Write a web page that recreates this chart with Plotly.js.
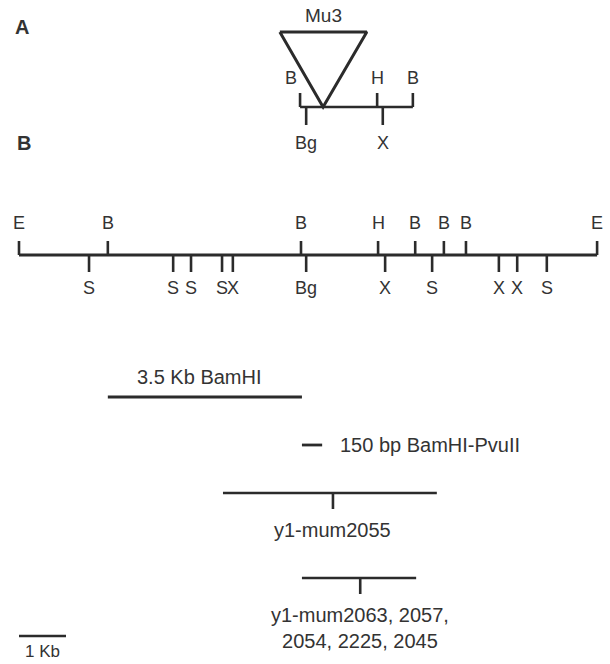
<!DOCTYPE html>
<html>
<head>
<meta charset="utf-8">
<script src="https://cdn.plot.ly/plotly-3.0.1.min.js"></script>
<style>html,body{margin:0;padding:0;background:#fff;}#chart{width:610px;height:664px;}</style>
</head>
<body>
<div id="chart"></div>
<script>
// ---------- DATA (positions in kb from the left EcoRI site) ----------
const mapEnds = [0, 12.30];
const upSites = ['E', 'B', 'B', 'H', 'B', 'B', 'B', 'E'];
const upPos = [0, 1.89, 6.00, 7.64, 8.43, 9.04, 9.51, 12.30];
const downSites = ['S', 'S', 'S', 'S', 'X', 'Bg', 'X', 'S', 'X', 'X', 'S'];
const downPos = [1.49, 3.28, 3.66, 4.32, 4.55, 6.11, 7.79, 8.79, 10.21, 10.60, 11.23];

// Panel A: Mu3 insertion region
const aUpSites = ['B', 'H', 'B'];
const aUpPos = [5.98, 7.62, 8.38];
const aDownSites = ['Bg', 'X'];
const aDownPos = [6.11, 7.74];
const mu3Label = 'Mu3';
const mu3Insert = 6.47;
const mu3Top = [5.55, 7.40];

// Probes
const probeNames = ['3.5 Kb BamHI', '150 bp BamHI-PvuII'];
const probeStart = [1.89, 6.02];
const probeEnd = [6.02, 6.45];

// Mutant alleles
const mutNames = ['y1-mum2055', 'y1-mum2063, 2057,<br>2054, 2225, 2045'];
const mutStart = [4.34, 6.02];
const mutEnd = [8.89, 8.45];
const mutInsert = [6.68, 7.26];

// Scale bar
const scaleBar = [0, 1];
const scaleLabel = '1 Kb';

// ---------- LAYOUT CONSTANTS (pixel rows) ----------
const PX_PER_KB = 47, ORIGIN_PX = 19, W = 610, H = 664;
const LC = '#2b2b2b', TC = '#333333', LW = 2.6;
const FONT = 'Liberation Sans, Arial, Helvetica, sans-serif';
const rowA = {line: 107, up: 93, down: 125, upLab: 78, downLab: 143, tri: 32, mu: 15};
const rowB = {line: 255, up: 241, down: 272, upLab: 223, downLab: 288};
const probeRows = [397, 445];
const mutRows = [493, 578];
const tickLen = 16;
const scaleRow = 636;

const traces = [];
function seg(xs, ys, w) {
  traces.push({type: 'scatter', mode: 'lines', x: xs, y: ys,
    line: {color: LC, width: w || LW}, hoverinfo: 'skip', showlegend: false});
}
function ticks(pos, y0, y1) {
  const xs = [], ys = [];
  pos.forEach(p => { xs.push(p, p, null); ys.push(y0, y1, null); });
  seg(xs, ys);
}
const ann = [];
function label(text, x, y, size, opts) {
  ann.push(Object.assign({text: text, x: x, y: y, xref: 'x', yref: 'y', showarrow: false,
    font: {family: FONT, size: size, color: TC}, xanchor: 'center', yanchor: 'middle'}, opts || {}));
}

// Panel A
seg([aUpPos[0], aUpPos[aUpPos.length - 1]], [rowA.line, rowA.line]);
ticks(aUpPos, rowA.line, rowA.up);
ticks(aDownPos, rowA.line, rowA.down);
seg([mu3Top[0], mu3Insert, mu3Top[1], mu3Top[0]], [rowA.tri, rowA.line, rowA.tri, rowA.tri], 3);
label(mu3Label, mu3Insert, rowA.mu, 19);
aUpSites.forEach((s, i) => label(s, aUpPos[i], rowA.upLab, 18, i === 0 ? {xshift: -9} : {}));
aDownSites.forEach((s, i) => label(s, aDownPos[i], rowA.downLab, 18));

// Panel B map
seg(mapEnds, [rowB.line, rowB.line], 2.8);
ticks(upPos, rowB.line, rowB.up);
ticks(downPos, rowB.line, rowB.down);
upSites.forEach((s, i) => label(s, upPos[i], rowB.upLab, 18));
downSites.forEach((s, i) => label(s, downPos[i], rowB.downLab, 18));

// Probes
probeNames.forEach((n, i) => {
  seg([probeStart[i], probeEnd[i]], [probeRows[i], probeRows[i]], 2.8);
  if (i === 0) label(n, (probeStart[i] + probeEnd[i]) / 2, probeRows[i] - 20, 20, {xshift: -5});
  else label(n, probeEnd[i], probeRows[i], 20, {xanchor: 'left', xshift: 16});
});

// Mutants
mutNames.forEach((n, i) => {
  seg([mutStart[i], mutEnd[i]], [mutRows[i], mutRows[i]]);
  ticks([mutInsert[i]], mutRows[i], mutRows[i] + tickLen);
  label(n, mutInsert[i], mutRows[i] + tickLen + 8, 20, {yanchor: 'top'});
});

// Scale bar
seg(scaleBar, [scaleRow, scaleRow]);
label(scaleLabel, (scaleBar[0] + scaleBar[1]) / 2, 651, 17);

// Panel letters (paper-positioned)
ann.push({text: '<b>A</b>', x: 22 / W, y: 1 - 27 / H, xref: 'paper', yref: 'paper', showarrow: false,
  font: {family: FONT, size: 20, color: TC}, xanchor: 'center', yanchor: 'middle'});
ann.push({text: '<b>B</b>', x: 24 / W, y: 1 - 143 / H, xref: 'paper', yref: 'paper', showarrow: false,
  font: {family: FONT, size: 20, color: TC}, xanchor: 'center', yanchor: 'middle'});

const layout = {
  width: W, height: H, margin: {l: 0, r: 0, t: 0, b: 0, pad: 0},
  paper_bgcolor: '#ffffff', plot_bgcolor: '#ffffff', showlegend: false,
  xaxis: {range: [-ORIGIN_PX / PX_PER_KB, (W - ORIGIN_PX) / PX_PER_KB], visible: false, fixedrange: true},
  yaxis: {range: [H, 0], visible: false, fixedrange: true},
  annotations: ann
};
Plotly.newPlot('chart', traces, layout, {staticPlot: true, displayModeBar: false});
</script>
</body>
</html>
